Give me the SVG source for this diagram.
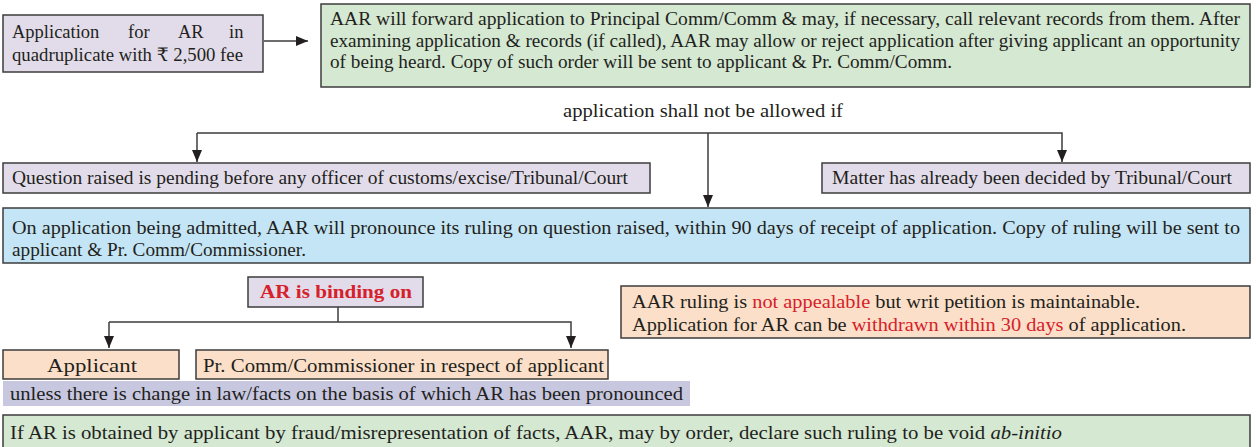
<svg xmlns="http://www.w3.org/2000/svg" width="1256" height="447" viewBox="0 0 1256 447">
  <style>
    text { font-family: "Liberation Serif", "DejaVu Serif", serif; font-size: 18.5px; fill: #231f20; }
    .box { stroke: #3d3d3d; stroke-width: 1.5; }
    .lav { fill: #e2dcea; }
    .green { fill: #d4e8d2; }
    .blue { fill: #c4e5f5; }
    .peach { fill: #fbdfc8; }
    .band { fill: #c8c7e0; }
    .red { fill: #d6202a; }
    .wire { fill: none; stroke: #3d3d3d; stroke-width: 1.5; }
  </style>
  <defs>
    <marker id="arrow" viewBox="0 0 12 10" refX="12" refY="5" markerWidth="12" markerHeight="10" markerUnits="userSpaceOnUse" orient="auto">
      <path d="M0,0 L12,5 L0,10 z" fill="#231f20"/>
    </marker>
  </defs>

  <!-- connectors -->
  <g id="connectors">
    <line class="wire" x1="264" y1="41" x2="308" y2="41" marker-end="url(#arrow)"/>
    <polyline class="wire" points="197,133 1062,133 1062,162" marker-end="url(#arrow)"/>
    <line class="wire" x1="197" y1="133" x2="197" y2="162" marker-end="url(#arrow)"/>
    <line class="wire" x1="708" y1="133" x2="708" y2="207" marker-end="url(#arrow)"/>
    <line class="wire" x1="338" y1="307" x2="338" y2="322"/>
    <polyline class="wire" points="109,322 571,322 571,348" marker-end="url(#arrow)"/>
    <line class="wire" x1="109" y1="322" x2="109" y2="348" marker-end="url(#arrow)"/>
  </g>

  <!-- application filing -->
  <g id="node-application">
    <rect class="box lav" x="3" y="15" width="260" height="57"/>
    <text y="38"><tspan x="12">Application</tspan><tspan x="128">for</tspan><tspan x="178">AR</tspan><tspan x="229">in</tspan></text>
    <text x="12" y="61" textLength="231" lengthAdjust="spacingAndGlyphs">quadruplicate with ₹ 2,500 fee</text>
  </g>

  <!-- AAR processing -->
  <g id="node-forward">
    <rect class="box green" x="321" y="4" width="929" height="83"/>
    <text x="330" y="25" textLength="910" lengthAdjust="spacingAndGlyphs">AAR will forward application to Principal Comm/Comm &amp; may, if necessary, call relevant records from them. After</text>
    <text x="330" y="47" textLength="910" lengthAdjust="spacingAndGlyphs">examining application &amp; records (if called), AAR may allow or reject application after giving applicant an opportunity</text>
    <text x="330" y="68" textLength="622" lengthAdjust="spacingAndGlyphs">of being heard. Copy of such order will be sent to applicant &amp; Pr. Comm/Comm.</text>
  </g>

  <g id="label-not-allowed">
    <text x="563" y="117" textLength="280" lengthAdjust="spacingAndGlyphs">application shall not be allowed if</text>
  </g>

  <g id="node-pending">
    <rect class="box lav" x="3" y="163" width="647" height="30"/>
    <text x="12" y="184" textLength="616" lengthAdjust="spacingAndGlyphs">Question raised is pending before any officer of customs/excise/Tribunal/Court</text>
  </g>

  <g id="node-decided">
    <rect class="box lav" x="822" y="163" width="428" height="30"/>
    <text x="832" y="184" textLength="400" lengthAdjust="spacingAndGlyphs">Matter has already been decided by Tribunal/Court</text>
  </g>

  <!-- ruling -->
  <g id="node-ruling">
    <rect class="box blue" x="3" y="208" width="1247" height="55"/>
    <text x="12" y="234" textLength="1228" lengthAdjust="spacingAndGlyphs">On application being admitted, AAR will pronounce its ruling on question raised, within 90 days of receipt of application. Copy of ruling will be sent to</text>
    <text x="12" y="256" textLength="294" lengthAdjust="spacingAndGlyphs">applicant &amp; Pr. Comm/Commissioner.</text>
  </g>

  <g id="node-binding">
    <rect class="box lav" x="248" y="277" width="175" height="30"/>
    <text class="red" x="260" y="298" font-weight="bold" textLength="152" lengthAdjust="spacingAndGlyphs">AR is binding on</text>
  </g>

  <g id="node-appeal">
    <rect class="box peach" x="621" y="286" width="629" height="52"/>
    <text x="632" y="308" textLength="508" lengthAdjust="spacingAndGlyphs">AAR ruling is <tspan class="red">not appealable</tspan> but writ petition is maintainable.</text>
    <text x="632" y="331" textLength="554" lengthAdjust="spacingAndGlyphs">Application for AR can be <tspan class="red">withdrawn within 30 days</tspan> of application.</text>
  </g>

  <g id="node-applicant">
    <rect class="box peach" x="3" y="350" width="176" height="29"/>
    <text x="47" y="372" textLength="90" lengthAdjust="spacingAndGlyphs">Applicant</text>
  </g>

  <g id="node-commissioner">
    <rect class="box peach" x="196" y="350" width="412" height="29"/>
    <text x="203" y="372" textLength="401" lengthAdjust="spacingAndGlyphs">Pr. Comm/Commissioner in respect of applicant</text>
  </g>

  <g id="node-unless">
    <rect class="band" x="3" y="381" width="687" height="25"/>
    <text x="10" y="400" textLength="673" lengthAdjust="spacingAndGlyphs">unless there is change in law/facts on the basis of which AR has been pronounced</text>
  </g>

  <g id="node-fraud">
    <rect class="box green" x="3" y="415" width="1247" height="36"/>
    <text x="10" y="439" textLength="1052" lengthAdjust="spacingAndGlyphs">If AR is obtained by applicant by fraud/misrepresentation of facts, AAR, may by order, declare such ruling to be void <tspan font-style="italic">ab-initio</tspan></text>
  </g>
</svg>
